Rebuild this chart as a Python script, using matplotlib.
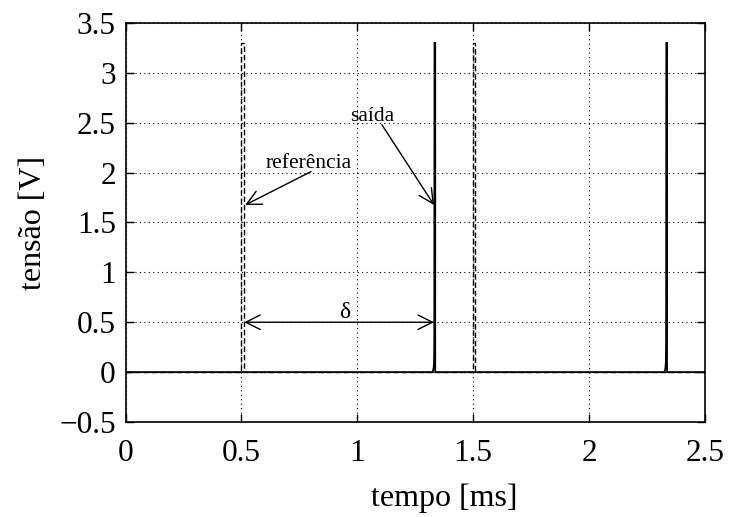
import matplotlib
matplotlib.use("Agg")
import matplotlib.pyplot as plt

plt.rcParams['font.family'] = ['Liberation Serif', 'DejaVu Serif']

# reference signal (ms, V)
ref_t = [0.0, 0.500, 0.500, 0.509, 0.509, 1.500, 1.500, 1.509, 1.509, 2.5]
ref_v = [0.0, 0.0, 3.3, 3.3, 0.0, 0.0, 3.3, 3.3, 0.0, 0.0]

# output signal (ms, V)
out_t = [0.0, 1.325, 1.329, 1.331, 1.332, 1.333, 1.336, 1.336,
         2.325, 2.329, 2.331, 2.332, 2.333, 2.336, 2.336, 2.5]
out_v = [0.0, 0.0, 0.04, 0.1, 0.3, 3.3, 3.3, 0.0,
         0.0, 0.04, 0.1, 0.3, 3.3, 3.3, 0.0, 0.0]

xticks = [0, 0.5, 1, 1.5, 2, 2.5]
yticks = [-0.5, 0, 0.5, 1, 1.5, 2, 2.5, 3, 3.5]
ytick_labels = ['\u22120.5', '0', '0.5', '1', '1.5', '2', '2.5', '3', '3.5']

fig = plt.figure(figsize=(7.31, 5.17), dpi=100)
ax = fig.add_axes([0.1717, 0.1838, 0.7928, 0.7717])

ax.plot(out_t, out_v, color='black', lw=1.3, solid_joinstyle='miter')
ax.plot(ref_t, ref_v, color='black', lw=1.0, ls=(0, (4, 2)))

ax.set_xlim(0, 2.5)
ax.set_ylim(-0.5, 3.5)
ax.set_xticks(xticks)
ax.set_xticklabels([('%g' % v) for v in xticks])
ax.set_yticks(yticks)
ax.set_yticklabels(ytick_labels)
ax.tick_params(direction='in', top=True, right=True, length=6, width=1,
               labelsize=22.5)
ax.tick_params(axis='x', pad=12)
ax.tick_params(axis='y', pad=7)
ax.grid(True, ls=(0, (1, 3)), color='black', lw=0.8)
for s in ax.spines.values():
    s.set_linewidth(1.2)

ax.set_xlabel('tempo [ms]', fontsize=23, labelpad=10)
ax.xaxis.set_label_coords(0.55, -0.155)
ax.set_ylabel('tensão [V]', fontsize=23, labelpad=8)

ap = dict(arrowstyle='->', color='black', lw=1.0, mutation_scale=26,
          shrinkA=0, shrinkB=0)
ax.annotate('', xy=(0.516, 1.675), xytext=(0.80, 2.01), arrowprops=ap)
ax.text(0.79, 2.09, 'referência', fontsize=15.5, ha='center', va='center')
ax.annotate('', xy=(1.331, 1.675), xytext=(1.106, 2.48), arrowprops=ap)
ax.text(1.063, 2.56, 'saída', fontsize=15.5, ha='center', va='center')
ap2 = dict(arrowstyle='<->', color='black', lw=1.0, mutation_scale=26,
           shrinkA=0, shrinkB=0)
ax.annotate('', xy=(0.512, 0.5), xytext=(1.331, 0.5), arrowprops=ap2)
ax.text(0.945, 0.60, 'δ', fontsize=17, ha='center', va='center')

fig.savefig('out.png', dpi=100)
